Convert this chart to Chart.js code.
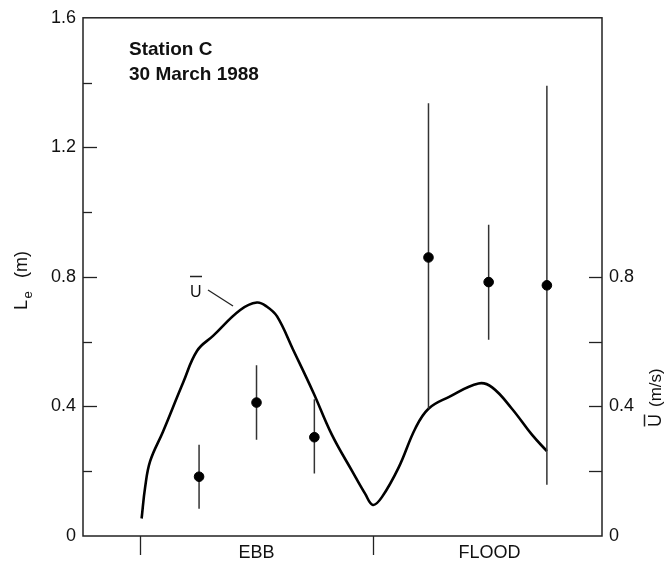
<!DOCTYPE html>
<html>
<head>
<meta charset="utf-8">
<script src="https://cdn.jsdelivr.net/npm/chart.js@4"></script>
<style>
  html, body { margin: 0; padding: 0; background: #fff; }
  #wrap { width: 664px; height: 565px; position: relative; }
</style>
</head>
<body>
<div id="wrap"><canvas id="c" width="664" height="565"></canvas></div>
<script>
// ---- data (x in hours, ticks at 0 and 6) ----
const phaseLabels = ['EBB', 'FLOOD'];
const phaseCenters = [3, 9];
const phaseBoundaries = [0, 6];

const pointHours = [1.52, 3.0, 4.49, 7.43, 8.98, 10.48];
const pointLe    = [0.183, 0.412, 0.305, 0.860, 0.784, 0.774];
const errLow     = [0.084, 0.297, 0.193, 0.393, 0.606, 0.158];
const errHigh    = [0.282, 0.527, 0.422, 1.336, 0.961, 1.390];

const curveHours = [0.04, 0.13, 0.26, 0.59, 1.11, 1.47, 1.88, 2.58, 3.01, 3.27, 3.53, 3.94, 4.46, 4.94,
                    5.46, 5.80, 6.00, 6.23, 6.66, 7.09, 7.43, 7.95, 8.72, 9.07, 9.58, 10.10, 10.48];
const curveU     = [0.054, 0.150, 0.231, 0.322, 0.474, 0.572, 0.618, 0.698, 0.721, 0.708, 0.678, 0.576, 0.444, 0.313,
                    0.201, 0.130, 0.096, 0.120, 0.211, 0.332, 0.393, 0.429, 0.471, 0.459, 0.393, 0.312, 0.262];

const leftTicks  = [0, 0.2, 0.4, 0.6, 0.8, 1.0, 1.2, 1.4, 1.6];
const rightTicks = [0, 0.2, 0.4, 0.6, 0.8];
const titleLines = ['Station C', '30 March 1988'];

// ---- build datasets ----
const dots = pointHours.map((h, i) => ({ x: h, y: pointLe[i] }));
const bars = [];
pointHours.forEach((h, i) => {
  bars.push({ x: h, y: errLow[i] });
  bars.push({ x: h, y: errHigh[i] });
  bars.push({ x: h, y: null });
});
const curve = curveHours.map((h, i) => ({ x: h, y: curveU[i] }));

const FONT = "'Liberation Sans', Arial, Helvetica, sans-serif";
const TXT = '#111';

function isMajor(v) { return Math.abs(Math.round(v * 10) % 4) === 0; }
function fmt(v) { return v === 0 ? '0' : (Math.round(v * 10) / 10).toFixed(1); }

const decor = {
  id: 'decor',
  afterDraw(chart) {
    const ctx = chart.ctx;
    const a = chart.chartArea;
    const sx = chart.scales.x, sy = chart.scales.y, sr = chart.scales.yR;
    ctx.save();
    ctx.strokeStyle = '#222';
    ctx.lineWidth = 1.5;
    ctx.strokeRect(a.left, a.top, a.right - a.left, a.bottom - a.top);

    // left inward ticks
    ctx.lineWidth = 1.3;
    leftTicks.forEach(v => {
      if (v <= 0 || v >= 1.6) return;
      const y = Math.round(sy.getPixelForValue(v)) + 0.5;
      const len = isMajor(v) ? 14 : 9;
      ctx.beginPath(); ctx.moveTo(a.left, y); ctx.lineTo(a.left + len, y); ctx.stroke();
    });
    // right inward ticks
    rightTicks.forEach(v => {
      if (v <= 0) return;
      const y = Math.round(sr.getPixelForValue(v)) + 0.5;
      ctx.beginPath(); ctx.moveTo(a.right, y); ctx.lineTo(a.right - 13, y); ctx.stroke();
    });
    // bottom outward ticks
    phaseBoundaries.forEach(v => {
      const x = Math.round(sx.getPixelForValue(v)) + 0.5;
      ctx.beginPath(); ctx.moveTo(x, a.bottom); ctx.lineTo(x, a.bottom + 19); ctx.stroke();
    });

    // title text
    ctx.fillStyle = TXT;
    ctx.font = "bold 19px " + FONT;
    ctx.textAlign = 'left';
    ctx.textBaseline = 'alphabetic';
    ctx.fillText(titleLines[0], 129, 55);
    ctx.fillText(titleLines[1], 129, 80);

    // left axis title: L_e (m)
    ctx.save();
    ctx.translate(26.5, 310);
    ctx.rotate(-Math.PI / 2);
    ctx.font = "18px " + FONT;
    ctx.fillText('L', 0, 0);
    ctx.font = "13px " + FONT;
    ctx.fillText('e', 11.5, 5.5);
    ctx.font = "18px " + FONT;
    ctx.fillText('(m)', 32, 0);
    ctx.restore();

    // right axis title: U-bar (m/s)
    ctx.save();
    ctx.translate(661, 427);
    ctx.rotate(-Math.PI / 2);
    ctx.font = "18px " + FONT;
    ctx.fillText('U', 0, 0);
    ctx.lineWidth = 1.5;
    ctx.beginPath(); ctx.moveTo(0.5, -16.5); ctx.lineTo(12.5, -16.5); ctx.stroke();
    ctx.font = "17px " + FONT;
    ctx.fillText('(m/s)', 20, 0);
    ctx.restore();

    // curve label U-bar with leader
    ctx.font = "16px " + FONT;
    ctx.textBaseline = 'alphabetic';
    ctx.fillText('U', 190, 297);
    ctx.lineWidth = 1.5;
    ctx.beginPath(); ctx.moveTo(190, 276.5); ctx.lineTo(202, 276.5); ctx.stroke();
    ctx.lineWidth = 1.3;
    ctx.beginPath(); ctx.moveTo(208, 290); ctx.lineTo(233, 306); ctx.stroke();
    ctx.restore();
  }
};

new Chart(document.getElementById('c'), {
  type: 'scatter',
  data: {
    datasets: [
      { data: dots, yAxisID: 'y', backgroundColor: '#000', borderColor: '#000', pointRadius: 4.8, showLine: false },
      { data: bars, yAxisID: 'y', showLine: true, spanGaps: false, borderColor: '#333', borderWidth: 1.5, pointRadius: 0 },
      { data: curve, yAxisID: 'yR', showLine: true, borderColor: '#000', borderWidth: 2.6, pointRadius: 0, tension: 0.4 }
    ]
  },
  options: {
    responsive: false,
    animation: false,
    devicePixelRatio: 1,
    layout: { padding: { top: 10, left: 0, right: 0, bottom: 0 } },
    plugins: { legend: { display: false }, tooltip: { enabled: false } },
    scales: {
      x: {
        type: 'linear', position: 'bottom', min: -1.47, max: 11.9,
        grid: { display: false, drawTicks: false }, border: { display: false },
        afterBuildTicks: s => { s.ticks = phaseCenters.map(v => ({ value: v })); },
        ticks: {
          padding: 6, color: TXT, font: { family: FONT, size: 18 }, maxRotation: 0, autoSkip: false,
          callback: v => { const i = phaseCenters.indexOf(v); return i >= 0 ? phaseLabels[i] : ''; }
        },
        afterFit: s => { s.height = 29; }
      },
      y: {
        type: 'linear', position: 'left', min: 0, max: 1.6,
        grid: { display: false, drawTicks: false }, border: { display: false },
        afterBuildTicks: s => { s.ticks = leftTicks.map(v => ({ value: v })); },
        ticks: {
          padding: 7, color: TXT, font: { family: FONT, size: 18 }, autoSkip: false,
          callback: v => isMajor(v) ? fmt(v) : ''
        },
        afterFit: s => { s.width = 83; }
      },
      yR: {
        type: 'linear', position: 'right', min: 0, max: 1.6,
        grid: { display: false, drawTicks: false }, border: { display: false },
        afterBuildTicks: s => { s.ticks = rightTicks.map(v => ({ value: v })); },
        ticks: {
          padding: 7, color: TXT, font: { family: FONT, size: 18 }, autoSkip: false,
          callback: v => isMajor(v) ? fmt(v) : ''
        },
        afterFit: s => { s.width = 62; }
      }
    }
  },
  plugins: [decor]
});
</script>
</body>
</html>
